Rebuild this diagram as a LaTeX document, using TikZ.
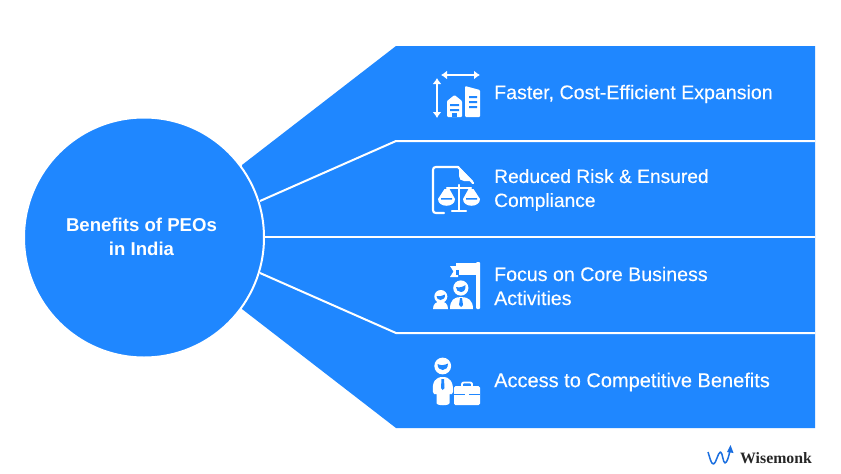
\documentclass[tikz,border=0pt]{standalone}
\usepackage{fontspec}
\usetikzlibrary{arrows.meta}
\setmainfont{Liberation Sans}
\newfontfamily\medfont[FakeBold=0.25]{Liberation Sans}
\newfontfamily\logofont{Liberation Serif}
\definecolor{pblue}{HTML}{1F87FF}
\definecolor{lblue}{HTML}{1B6FE0}
\tikzset{
  x=1pt,y=-1pt,
  sep/.style={draw=white,line width=2pt},
  lab/.style={text=white,anchor=west,align=left,font=\medfont\fontsize{#1}{24}\selectfont,inner sep=0pt},
  ico/.style={fill=white,draw=none},
  icol/.style={draw=white,line width=2.2pt,line cap=round,line join=round},
  dbl/.style={draw=white,line width=2.2pt,{Latex[length=6pt,width=9pt]}-{Latex[length=6pt,width=9pt]}},
}
\begin{document}
\begin{tikzpicture}
\useasboundingbox (0,0) rectangle (841,474);
\fill[white] (0,0) rectangle (841,474);
% fan panel
\fill[pblue] (242,165) -- (396,46) -- (815,46) -- (815,428) -- (396,428) -- (242,309) -- cycle;
\coordinate (t1) at (260,201); \coordinate (b1) at (396,141); \coordinate (e1) at (815,141);
\coordinate (t2) at (264,237); \coordinate (e2) at (815,237);
\coordinate (t3) at (260,273); \coordinate (b3) at (396,333); \coordinate (e3) at (815,333);
\draw[sep] (t1) -- (b1) -- (e1);
\draw[sep] (t2) -- (e2);
\draw[sep] (t3) -- (b3) -- (e3);
% hub
\node[circle,fill=pblue,draw=white,line width=2pt,minimum size=240pt,inner sep=0pt] (hub) at (144,237.5) {};
\node[align=center,inner sep=0pt,text=white,font=\fontsize{18.6}{24}\selectfont\bfseries] (hubtext) at (141.5,237) {Benefits of PEOs\\in India};
% labels
\node[lab=19.6] (l1) at (494,94) {Faster, Cost-Efficient Expansion};
\node[lab=19.2] (l2) at (494,190) {Reduced Risk \& Ensured\\Compliance};
\node[lab=19.6] (l3) at (494,286) {Focus on Core Business\\Activities};
\node[lab=20] (l4) at (494,382) {Access to Competitive Benefits};
% icon 1
\draw[dbl] (441,75) -- (480,75);
\draw[dbl] (437,78) -- (437,118);
\fill[ico,rounded corners=1pt] (447,117) -- (447,101) -- (454.5,95) -- (462,101) -- (462,117) -- cycle;
\fill[ico,rounded corners=1pt] (465,117) -- (465,86) -- (480,90) -- (480,117) -- cycle;
\fill[pblue] (450,104) rectangle (459,106) (450,109) rectangle (459,111);
\fill[pblue] (452,113) rectangle (457,117);
\fill[pblue] (469,96) rectangle (477,98) (469,101) rectangle (477,103) (469,106) rectangle (477,108);
% icon 2
\draw[icol] (444,213) -- (436,213) .. controls (434,213) and (433,212) .. (433,210) -- (433,170) .. controls (433,168) and (434,167) .. (436,167) -- (458,167) -- (473,183);
\fill[ico] (459,167) -- (459,176) .. controls (459,179) and (461,181) .. (464,181) -- (473,181) -- cycle;
\draw[icol] (459,185) -- (459,211) (452,211) -- (466,211) (447,188) -- (471,188);
\fill[ico] (444.5,189) -- (449.5,189) -- (455,199) .. controls (455,208) and (438,208) .. (438,199) -- cycle;
\fill[ico] (468.5,189) -- (473.5,189) -- (480,199) .. controls (480,208) and (463,208) .. (463,199) -- cycle;
\fill[pblue] (441,198) rectangle (452,199.5) (466,198) rectangle (477,199.5);
% icon 3
\fill[ico,rounded corners=1pt] (476,262) -- (480,262) -- (480,309) -- (476,309) -- cycle;
\fill[ico] (456,263) -- (477,263) -- (477,275) -- (456,275) -- cycle;
\fill[ico] (450,266) -- (458,266) -- (458,277) -- (450,277) -- (453.5,271.5) -- cycle;
\fill[pblue] (456,269.5) -- (458.5,269.5) -- (458.5,274.5) -- (456,274.5) -- cycle;
\fill[ico] (450,309) .. controls (450,300) and (454,297) .. (461,297) .. controls (468,297) and (473,300) .. (473,309) -- cycle;
\fill[ico] (460.8,288) circle (7.6);
\fill[pblue] (456,287) .. controls (459,288) and (463,287) .. (465.5,285) .. controls (466,289) and (464,292) .. (461,292) .. controls (458,292) and (456,290) .. (456,287) -- cycle;
\fill[pblue] (460,298) -- (462,298) -- (463,305) -- (461,307) -- (459,305) -- cycle;
\fill[ico] (433,309) .. controls (433,304) and (436,301.5) .. (441,301.5) .. controls (445,301.5) and (448,304) .. (448,309) -- cycle;
\fill[ico] (440.8,296.5) circle (6.5);
\fill[pblue] (436.5,296) .. controls (439,297) and (442,296) .. (445,294.5) .. controls (445.5,298) and (443,300) .. (440.5,300) .. controls (438,300) and (436.5,298) .. (436.5,296) -- cycle;
% icon 4
\fill[ico] (442.7,366) circle (8.4);
\fill[pblue] (437.5,364) .. controls (441,366) and (445,365) .. (448,363.5) .. controls (448,368) and (445.5,370) .. (442.7,370) .. controls (440,370) and (437.5,368) .. (437.5,364) -- cycle;
\fill[ico] (433,392) .. controls (432,382) and (435,377) .. (443,377) .. controls (450,377) and (453.5,382) .. (453,392) .. controls (453,394) and (451,395) .. (449.5,394) -- (449.5,403) .. controls (449.5,406) and (436.5,406) .. (436.5,403) -- (436.5,394) .. controls (435,395) and (433,394) .. (433,392) -- cycle;
\fill[pblue] (441.5,379) -- (444,379) -- (444.5,388) -- (442.7,390) -- (441,388) -- cycle;
\draw[white,line width=1.8pt] (462,386) -- (462,384) .. controls (462,383) and (463,382.5) .. (464,382.5) -- (470,382.5) .. controls (471,382.5) and (472,383) .. (472,384) -- (472,386);
\fill[ico,rounded corners=1.5pt] (454,386) rectangle (480,405);
\fill[pblue] (454,394) rectangle (480,395.2);
\fill[ico] (465,392) rectangle (469,398);
% logo
\draw[draw=lblue,line width=1.5pt,line join=round] (708,452) .. controls (710,458) and (711,464) .. (713.5,464) .. controls (716,464) and (718,452) .. (720.5,452) .. controls (722.5,452) and (723,463) .. (725,463) .. controls (727,463) and (729,456) .. (730,450);
\fill[lblue] (730.5,445) -- (733.5,453) -- (727,452) -- cycle;
\node[inner sep=0pt,anchor=west,font=\logofont\bfseries\fontsize{15.8}{18}\selectfont,text=black!85] (logo) at (740,458) {Wisemonk};
\end{tikzpicture}
\end{document}
